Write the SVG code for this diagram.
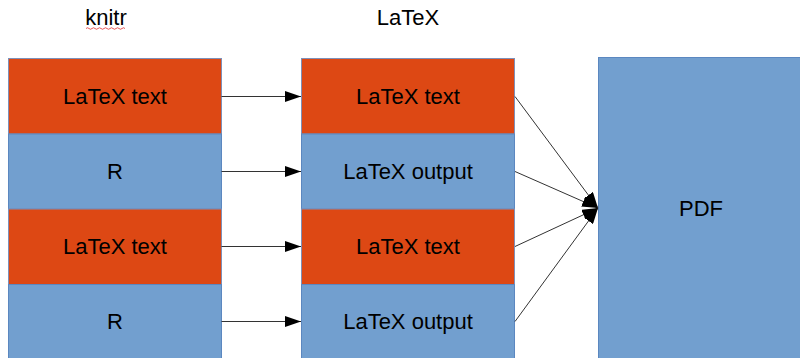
<svg xmlns="http://www.w3.org/2000/svg" width="800" height="358" viewBox="0 0 800 358">
  <style>
    text { font-family: "Liberation Sans", Arial, sans-serif; font-size: 22px; fill: #000; text-anchor: middle; }
    .tex { fill: #dd4814; stroke: #7f90b8; stroke-width: 1; }
    .r { fill: #729fcf; stroke: #5b87c0; stroke-width: 1; }
    .conn line { stroke: #333; stroke-width: 1; marker-end: url(#arrow); }
  </style>
  <defs>
    <marker id="arrow" viewBox="0 0 16 11" refX="16" refY="5.5" markerWidth="16" markerHeight="11" markerUnits="userSpaceOnUse" orient="auto">
      <path d="M0,0 L16,5.5 L0,11 Z" fill="#000"/>
    </marker>
  </defs>
  <rect width="800" height="358" fill="#fff"/>

  <!-- column headings -->
  <g id="heading-knitr">
    <text x="106" y="25">knitr</text>
    <path d="M86,28.5 q1.5,-1.5 3,0 t3,0 t3,0 t3,0 t3,0 t3,0 t3,0 t3,0 t3,0 t3,0 t3,0 t3,0 t3,0" fill="none" stroke="#e03030" stroke-width="0.8"/>
  </g>
  <g id="heading-latex">
    <text x="408" y="25">LaTeX</text>
  </g>

  <!-- knitr source column -->
  <g id="knitr-tex-1"><rect class="tex" x="8.5" y="58.5" width="213" height="75.5"/><text x="115" y="104">LaTeX text</text></g>
  <g id="knitr-r-1"><rect class="r" x="8.5" y="134" width="213" height="75"/><text x="115" y="179">R</text></g>
  <g id="knitr-tex-2"><rect class="tex" x="8.5" y="209" width="213" height="75.5"/><text x="115" y="254">LaTeX text</text></g>
  <g id="knitr-r-2"><rect class="r" x="8.5" y="284.5" width="213" height="80"/><text x="115" y="329">R</text></g>

  <!-- LaTeX column -->
  <g id="latex-tex-1"><rect class="tex" x="301.5" y="58.5" width="213" height="75.5"/><text x="408" y="104">LaTeX text</text></g>
  <g id="latex-out-1"><rect class="r" x="301.5" y="134" width="213" height="75"/><text x="408" y="179">LaTeX output</text></g>
  <g id="latex-tex-2"><rect class="tex" x="301.5" y="209" width="213" height="75.5"/><text x="408" y="254">LaTeX text</text></g>
  <g id="latex-out-2"><rect class="r" x="301.5" y="284.5" width="213" height="80"/><text x="408" y="329">LaTeX output</text></g>

  <!-- output document -->
  <g id="pdf"><rect class="r" x="598.5" y="57.5" width="210" height="310"/><text x="701" y="216">PDF</text></g>

  <!-- connectors -->
  <g class="conn" id="connectors">
    <line x1="221.5" y1="96.5" x2="301" y2="96.5"/>
    <line x1="221.5" y1="171.5" x2="301" y2="171.5"/>
    <line x1="221.5" y1="246.5" x2="301" y2="246.5"/>
    <line x1="221.5" y1="321.5" x2="301" y2="321.5"/>
    <line x1="515" y1="96.5" x2="598" y2="208"/>
    <line x1="515" y1="171.5" x2="598" y2="208"/>
    <line x1="515" y1="246.5" x2="598" y2="208"/>
    <line x1="515" y1="321.5" x2="598" y2="208"/>
  </g>
</svg>
